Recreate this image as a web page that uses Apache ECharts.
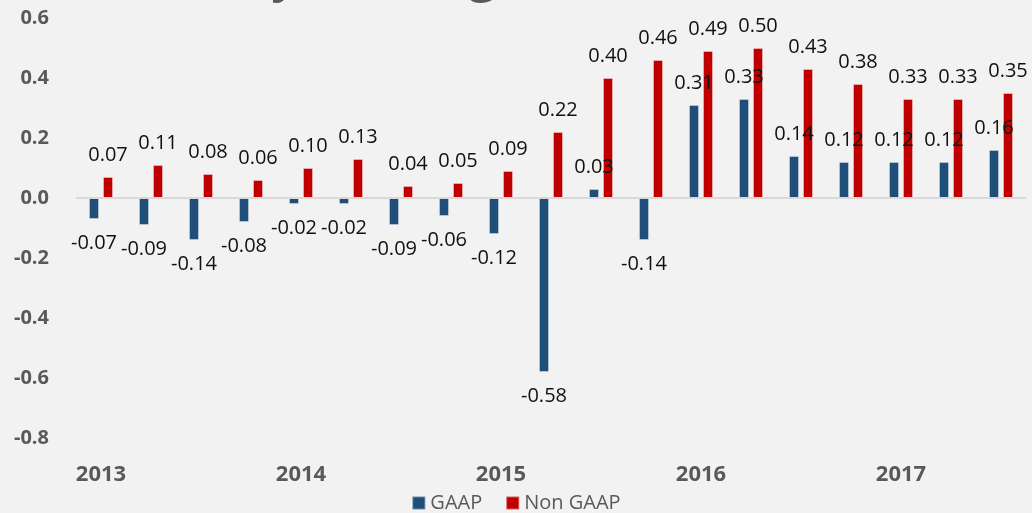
<!DOCTYPE html>
<html>
<head>
<meta charset="utf-8">
<script src="https://cdn.jsdelivr.net/npm/echarts@6/dist/echarts.min.js"></script>
<style>
  html, body { margin: 0; padding: 0; background: #f2f2f2; }
  #chart { width: 1032px; height: 513px; }
</style>
</head>
<body>
<div id="chart"></div>
<script>
const quarters = [
  '2013 Q1', '2013 Q2', '2013 Q3', '2013 Q4',
  '2014 Q1', '2014 Q2', '2014 Q3', '2014 Q4',
  '2015 Q1', '2015 Q2', '2015 Q3', '2015 Q4',
  '2016 Q1', '2016 Q2', '2016 Q3', '2016 Q4',
  '2017 Q1', '2017 Q2', '2017 Q3'
];
const gaap = [-0.07, -0.09, -0.14, -0.08, -0.02, -0.02, -0.09, -0.06, -0.12, -0.58,
  0.03, -0.14, 0.31, 0.33, 0.14, 0.12, 0.12, 0.12, 0.16];
const nonGaap = [0.07, 0.11, 0.08, 0.06, 0.10, 0.13, 0.04, 0.05, 0.09, 0.22,
  0.40, 0.46, 0.49, 0.50, 0.43, 0.38, 0.33, 0.33, 0.35];

const labelFont = {
  fontFamily: 'Open Sans',
  fontSize: 20,
  color: '#111'
};

// negative values get their label under the bar
const withLabels = function (values) {
  return values.map(function (v) {
    return {
      value: v,
      label: v < 0 ? { position: 'bottom', distance: 14 } : { position: 'top', distance: 12 }
    };
  });
};

const chart = echarts.init(document.getElementById('chart'));

const option = {
  backgroundColor: '#f2f2f2',
  title: {
    text: 'Quarterly Earnings',
    left: 63,
    top: -55,
    textStyle: {
      fontFamily: 'Open Sans',
      fontSize: 52,
      fontWeight: 'normal',
      color: '#595959'
    }
  },
  legend: {
    data: ['GAAP', 'Non GAAP'],
    left: 'center',
    top: 488,
    itemWidth: 13,
    itemHeight: 13,
    itemGap: 23,
    icon: 'rect',
    textStyle: {
      fontFamily: 'Open Sans',
      fontSize: 20,
      color: '#595959'
    }
  },
  grid: {
    left: 76,
    right: 6,
    top: 18,
    bottom: 75,
    containLabel: false
  },
  xAxis: {
    type: 'category',
    data: quarters,
    axisLine: { show: false },
    axisTick: { show: false },
    axisLabel: {
      interval: 3,
      margin: 26,
      fontFamily: 'Open Sans',
      fontSize: 22,
      fontWeight: 'bold',
      color: '#595959',
      formatter: function (v) { return v.slice(0, 4); }
    }
  },
  yAxis: {
    type: 'value',
    min: -0.8,
    max: 0.6,
    interval: 0.2,
    splitLine: { show: false },
    axisLine: { show: false },
    axisTick: { show: false },
    axisLabel: {
      margin: 27,
      fontFamily: 'Open Sans',
      fontSize: 20,
      fontWeight: 'bold',
      color: '#595959',
      formatter: function (v) { return v.toFixed(1); }
    }
  },
  series: [
    {
      name: 'GAAP',
      type: 'bar',
      barWidth: 10,
      barGap: '40%',
      data: withLabels(gaap),
      itemStyle: {
        color: '#1f4e79',
        borderColor: 'rgba(255,255,255,0.35)',
        borderWidth: 1
      },
      label: Object.assign({
        show: true,
        formatter: function (p) { return p.value.toFixed(2); }
      }, labelFont),
      markLine: {
        silent: true,
        symbol: 'none',
        label: { show: false },
        lineStyle: { color: '#d9d9d9', width: 2, type: 'solid' },
        data: [{ yAxis: 0 }]
      },
      z: 3
    },
    {
      name: 'Non GAAP',
      type: 'bar',
      barWidth: 10,
      data: withLabels(nonGaap),
      itemStyle: {
        color: '#c00000',
        borderColor: 'rgba(255,255,255,0.35)',
        borderWidth: 1
      },
      label: Object.assign({
        show: true,
        formatter: function (p) { return p.value.toFixed(2); }
      }, labelFont),
      z: 2
    }
  ]
};

chart.setOption(option);
</script>
</body>
</html>
